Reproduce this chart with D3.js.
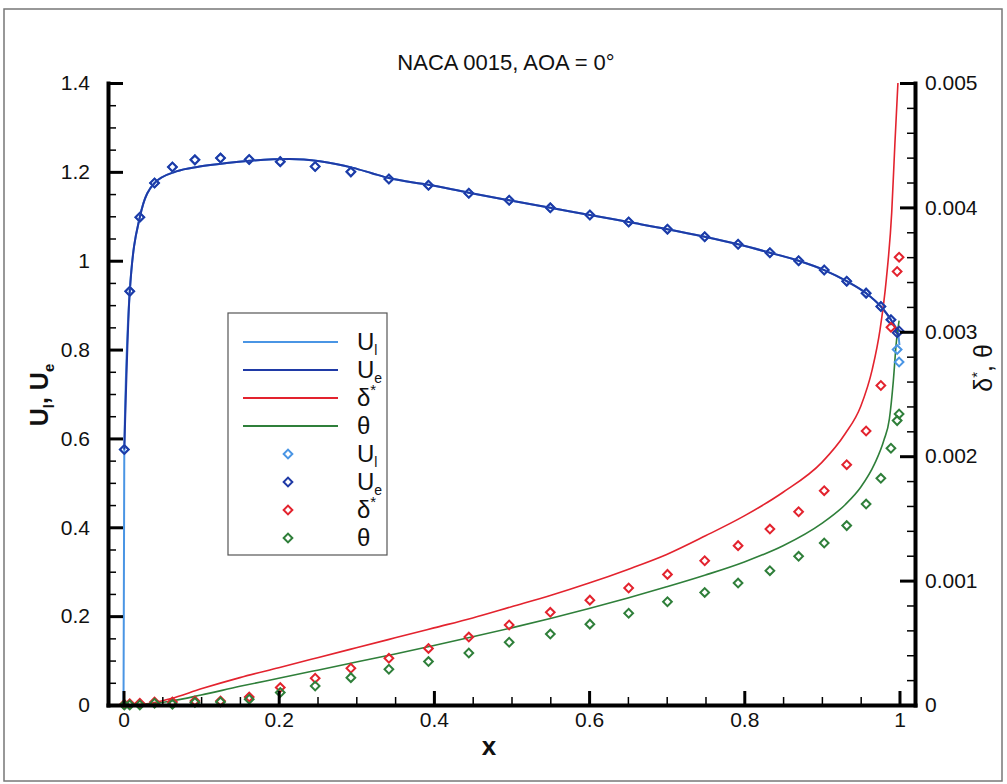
<!DOCTYPE html>
<html>
<head>
<meta charset="utf-8">
<script src="https://cdn.jsdelivr.net/npm/d3@7"></script>
<style>
  body { margin: 0; background: #fff; }
  svg text { font-family: "Liberation Sans", Arial, sans-serif; fill: #111; }
</style>
</head>
<body>
<div id="chart"></div>
<script>
// --- data ---
// line samples (x along chord)
const uLineX = [0, 0.001, 0.008, 0.021, 0.040, 0.068, 0.098, 0.133, 0.163, 0.214, 0.253, 0.296, 0.320, 0.342, 0.393, 0.445, 0.497, 0.550, 0.601, 0.651, 0.701, 0.749, 0.792, 0.833, 0.870, 0.903, 0.932, 0.957, 0.976, 0.989, 0.998];
const uLineY = [0, 0.575, 0.93, 1.098, 1.175, 1.201, 1.212, 1.220, 1.225, 1.229, 1.224, 1.209, 1.197, 1.186, 1.171, 1.153, 1.136, 1.119, 1.103, 1.087, 1.071, 1.054, 1.037, 1.018, 1.000, 0.979, 0.954, 0.927, 0.897, 0.867, 0.838];
const ulTailX = [1.0];
const ulTailY = [0.81];

const dsLineX = [0, 0.03, 0.06, 0.10, 0.15, 0.20, 0.25, 0.30, 0.35, 0.40, 0.45, 0.50, 0.55, 0.60, 0.65, 0.70, 0.75, 0.80, 0.85, 0.90, 0.93, 0.95, 0.965, 0.975, 0.983, 0.990, 0.994, 0.998];
const dsLineY = [0, 0.00001, 0.00005, 0.00013, 0.00022, 0.0003, 0.00038, 0.00046, 0.00054, 0.00062, 0.0007, 0.00079, 0.00088, 0.00098, 0.00109, 0.00121, 0.00136, 0.00152, 0.00171, 0.00195, 0.00218, 0.0024, 0.0027, 0.00302, 0.00342, 0.00396, 0.0045, 0.005];

const thLineX = [0, 0.03, 0.06, 0.10, 0.15, 0.20, 0.25, 0.30, 0.35, 0.40, 0.45, 0.50, 0.55, 0.60, 0.65, 0.70, 0.75, 0.80, 0.85, 0.90, 0.93, 0.95, 0.968, 0.98, 0.987, 0.992, 0.996, 0.9995];
const thLineY = [0, 0.000005, 0.00003, 0.00008, 0.00015, 0.000215, 0.00028, 0.000345, 0.00041, 0.000478, 0.000548, 0.00062, 0.000695, 0.000775, 0.00086, 0.00095, 0.001045, 0.00115, 0.00128, 0.00146, 0.00161, 0.00175, 0.00194, 0.00213, 0.0023, 0.0026, 0.00292, 0.00309];

// symbol samples
const markX = [0.001, 0.008, 0.021, 0.040, 0.063, 0.092, 0.125, 0.162, 0.202, 0.247, 0.293, 0.342, 0.393, 0.445, 0.497, 0.550, 0.601, 0.651, 0.701, 0.749, 0.792, 0.833, 0.870, 0.903, 0.932, 0.957, 0.976, 0.989, 0.997, 0.9995];
const ueMark = [0.575, 0.931, 1.098, 1.175, 1.211, 1.227, 1.231, 1.228, 1.223, 1.212, 1.200, 1.184, 1.170, 1.152, 1.136, 1.119, 1.103, 1.087, 1.071, 1.054, 1.037, 1.018, 1.000, 0.979, 0.954, 0.927, 0.897, 0.867, 0.838, 0.842];
const ulMark = [0.575, 0.931, 1.098, 1.175, 1.211, 1.227, 1.231, 1.228, 1.223, 1.212, 1.200, 1.184, 1.170, 1.152, 1.136, 1.119, 1.103, 1.087, 1.071, 1.054, 1.037, 1.018, 1.000, 0.979, 0.954, 0.927, 0.897, 0.867, 0.800, 0.772];
const dsMark = [0.000005, 0.00001, 0.000014, 0.000024, 0.000024, 0.000032, 0.000032, 0.000064, 0.00014, 0.000215, 0.000295, 0.000375, 0.000455, 0.000546, 0.000643, 0.000745, 0.000843, 0.00094, 0.00105, 0.00116, 0.001281, 0.001414, 0.001554, 0.001723, 0.001932, 0.002203, 0.002568, 0.003037, 0.003485, 0.0036];
const thMark = [0, 0, 0, 0.000014, 0.000006, 0.00002, 0.000024, 0.000046, 0.0001, 0.000153, 0.00022, 0.000287, 0.000349, 0.000418, 0.000504, 0.00057, 0.00065, 0.000737, 0.00083, 0.000905, 0.00098, 0.00108, 0.001195, 0.001302, 0.001442, 0.001615, 0.001822, 0.002064, 0.002286, 0.00234];

// ticks
const xTicks = [0, 0.2, 0.4, 0.6, 0.8, 1];
const yLeftTicks = [0, 0.2, 0.4, 0.6, 0.8, 1, 1.2, 1.4];
const yRightTicks = [0, 0.001, 0.002, 0.003, 0.004, 0.005];

const title = "NACA 0015, AOA = 0°";

// --- layout ---
const W = 1007, H = 784;
const pLeft = 108, pRight = 915, pTop = 83, pBottom = 705;

const col = { ul: "#4a95e4", ue: "#1f3aa6", ds: "#e3232e", th: "#2f7f3a" };

const svg = d3.select("#chart").append("svg").attr("width", W).attr("height", H);

// outer frame
svg.append("rect").attr("x", 4).attr("y", 9).attr("width", 998).attr("height", 772)
  .attr("fill", "none").attr("stroke", "#777").attr("stroke-width", 1.5);

const x = d3.scaleLinear().domain([-0.02, 1.02]).range([pLeft, pRight]);
const yL = d3.scaleLinear().domain([0, 1.4]).range([pBottom, pTop]);
const yR = d3.scaleLinear().domain([0, 0.005]).range([pBottom, pTop]);

svg.append("clipPath").attr("id", "plot")
  .append("rect").attr("x", pLeft).attr("y", pTop).attr("width", pRight - pLeft).attr("height", pBottom - pTop);

const fmt = d => String(+d.toFixed(4));
const minor = (lo, hi, step, majors) => d3.range(lo, hi + step / 2, step)
  .filter(v => !majors.some(m => Math.abs(m - v) < step / 10));

// --- curves ---
const plot = svg.append("g").attr("clip-path", "url(#plot)");
const zip = (xs, ys) => xs.map((v, i) => [v, ys[i]]);

const lineL = d3.line().x(d => x(d[0])).y(d => yL(d[1])).curve(d3.curveMonotoneX);
const lineR = d3.line().x(d => x(d[0])).y(d => yR(d[1])).curve(d3.curveMonotoneX);

plot.append("path").datum(zip(uLineX.concat(ulTailX), uLineY.concat(ulTailY)))
  .attr("d", lineL).attr("fill", "none").attr("stroke", col.ul).attr("stroke-width", 2);
plot.append("path").datum(zip(uLineX.slice(1), uLineY.slice(1)))
  .attr("d", lineL).attr("fill", "none").attr("stroke", col.ue).attr("stroke-width", 2);
plot.append("path").datum(zip(dsLineX, dsLineY))
  .attr("d", lineR).attr("fill", "none").attr("stroke", col.ds).attr("stroke-width", 1.6);
plot.append("path").datum(zip(thLineX, thLineY))
  .attr("d", lineR).attr("fill", "none").attr("stroke", col.th).attr("stroke-width", 1.6);

// --- symbols ---
const diamond = d3.symbol().type(d3.symbolSquare).size(38);
function marks(ys, yScale, color) {
  svg.append("g").selectAll("path").data(zip(markX, ys)).join("path")
    .attr("d", diamond)
    .attr("transform", d => `translate(${x(d[0])},${yScale(d[1])}) rotate(45)`)
    .attr("fill", "none").attr("stroke", color).attr("stroke-width", 2);
}
marks(ulMark, yL, col.ul);
marks(ueMark, yL, col.ue);
marks(dsMark, yR, col.ds);
marks(thMark, yR, col.th);

// --- axes ---
function styleAxis(g, fontSize) {
  g.select(".domain").attr("stroke", "#000").attr("stroke-width", 4).attr("stroke-linecap", "square");
  g.selectAll(".tick line").attr("stroke", "#000").attr("stroke-width", 3);
  g.selectAll(".tick text").attr("font-size", fontSize).attr("fill", "#111");
}
function minorAxis(axis, transform) {
  const g = svg.append("g").attr("transform", transform).call(axis);
  g.select(".domain").remove();
  g.selectAll(".tick line").attr("stroke", "#000").attr("stroke-width", 1.5);
}

// bottom
minorAxis(d3.axisBottom(x).tickValues(minor(0, 1, 0.05, xTicks)).tickSizeInner(-8).tickSizeOuter(0).tickFormat(""),
  `translate(0,${pBottom})`);
const gx = svg.append("g").attr("transform", `translate(0,${pBottom})`)
  .call(d3.axisBottom(x).tickValues(xTicks).tickSizeInner(-14).tickSizeOuter(0).tickPadding(7).tickFormat(fmt));
styleAxis(gx, 21);

// left
minorAxis(d3.axisLeft(yL).tickValues(minor(0, 1.4, 0.05, yLeftTicks)).tickSizeInner(-8).tickSizeOuter(0).tickFormat(""),
  `translate(${pLeft},0)`);
const gl = svg.append("g").attr("transform", `translate(${pLeft},0)`)
  .call(d3.axisLeft(yL).tickValues(yLeftTicks).tickSizeInner(-15).tickSizeOuter(0).tickPadding(18).tickFormat(fmt));
styleAxis(gl, 21);

// right
minorAxis(d3.axisRight(yR).tickValues(minor(0, 0.005, 0.0002, yRightTicks)).tickSizeInner(-8).tickSizeOuter(0).tickFormat(""),
  `translate(${pRight},0)`);
const gr = svg.append("g").attr("transform", `translate(${pRight},0)`)
  .call(d3.axisRight(yR).tickValues(yRightTicks).tickSizeInner(-15).tickSizeOuter(0).tickPadding(10).tickFormat(fmt));
styleAxis(gr, 21);

// --- titles ---
svg.append("text").attr("x", 506).attr("y", 70).attr("text-anchor", "middle")
  .attr("font-size", 22).text(title);

svg.append("text").attr("x", 489).attr("y", 755).attr("text-anchor", "middle")
  .attr("font-size", 26).attr("font-weight", "bold").text("x");

const lt = svg.append("text").attr("transform", "translate(48,395) rotate(-90)")
  .attr("text-anchor", "middle").attr("font-size", 25).attr("font-weight", "bold");
lt.append("tspan").text("U");
lt.append("tspan").attr("font-size", 15).attr("dy", 6).text("l");
lt.append("tspan").attr("dy", -6).text(", U");
lt.append("tspan").attr("font-size", 15).attr("dy", 6).text("e");

const rt = svg.append("text").attr("transform", "translate(992,368) rotate(-90)")
  .attr("text-anchor", "middle").attr("font-size", 25);
rt.append("tspan").text("δ");
rt.append("tspan").attr("font-size", 15).attr("dy", -10).text("*");
rt.append("tspan").attr("dy", 10).text(", θ");

// --- legend ---
const legendRows = [
  { kind: "line", color: col.ul, base: "U", sub: "l" },
  { kind: "line", color: col.ue, base: "U", sub: "e" },
  { kind: "line", color: col.ds, base: "δ", sup: "*" },
  { kind: "line", color: col.th, base: "θ" },
  { kind: "mark", color: col.ul, base: "U", sub: "l" },
  { kind: "mark", color: col.ue, base: "U", sub: "e" },
  { kind: "mark", color: col.ds, base: "δ", sup: "*" },
  { kind: "mark", color: col.th, base: "θ" }
];
const lg = svg.append("g").attr("transform", "translate(228,313)");
lg.append("rect").attr("width", 159).attr("height", 242)
  .attr("fill", "#fff").attr("stroke", "#555").attr("stroke-width", 1.2);
legendRows.forEach((r, i) => {
  const yy = 29 + i * 28;
  if (r.kind === "line") {
    lg.append("line").attr("x1", 15).attr("x2", 110).attr("y1", yy).attr("y2", yy)
      .attr("stroke", r.color).attr("stroke-width", 2);
  } else {
    lg.append("path").attr("d", diamond)
      .attr("transform", `translate(60,${yy}) rotate(45)`)
      .attr("fill", "none").attr("stroke", r.color).attr("stroke-width", 2);
  }
  const t = lg.append("text").attr("x", 129).attr("y", yy + 8).attr("font-size", 24);
  t.append("tspan").text(r.base);
  if (r.sub) t.append("tspan").attr("font-size", 14).attr("dy", 5).text(r.sub);
  if (r.sup) t.append("tspan").attr("font-size", 15).attr("dy", -11).text(r.sup);
});
</script>
</body>
</html>
